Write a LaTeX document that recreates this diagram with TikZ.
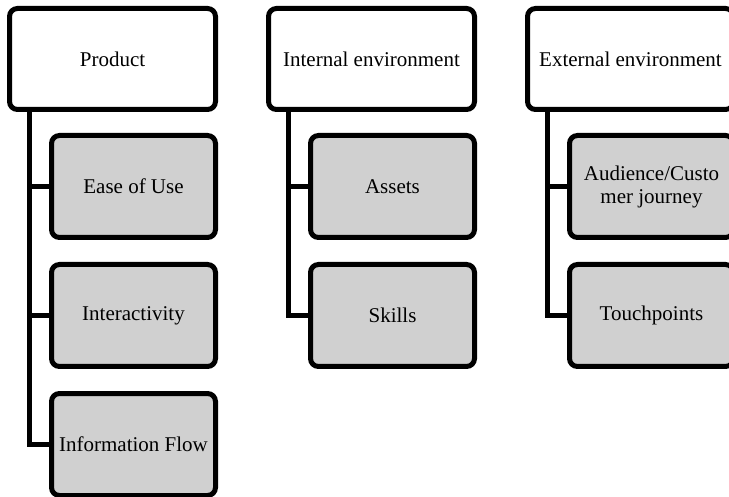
\documentclass[tikz,border=0pt]{standalone}
\usepackage{fontspec}
\setmainfont{Liberation Serif}
\usepackage{tikz}
\usetikzlibrary{positioning}
\definecolor{boxgray}{RGB}{208,208,208}
\begin{document}
\begin{tikzpicture}[x=1pt, y=1pt,
    topnode/.style={draw, line width=5pt, rounded corners=8pt, fill=white,
        minimum width=206pt, minimum height=101pt, align=center,
        font=\fontsize{21}{23}\selectfont},
    subnode/.style={topnode, fill=boxgray, minimum width=164pt, minimum height=102pt},
    branch/.style={line width=5pt}, node distance=22pt]
    \useasboundingbox (0,0) rectangle (729,-497);
    % Product
    \node[topnode] (P) at (112.5,-59) {Product};
    \node[subnode] (P1) [below=21pt of P, xshift=21pt] {Ease of Use};
    \node[subnode] (P2) [below=of P1] {Interactivity};
    \node[subnode] (P3) [below=of P2] {Information Flow};
    % Internal environment
    \node[topnode] (I) at (371.5,-59) {Internal environment};
    \node[subnode] (I1) [below=21pt of I, xshift=21pt] {Assets};
    \node[subnode] (I2) [below=of I1] {Skills};
    % External environment
    \node[topnode] (E) at (630.5,-59) {External environment};
    \node[subnode] (E1) [below=21pt of E, xshift=21pt] {Audience/Custo\\mer journey};
    \node[subnode] (E2) [below=of E1] {Touchpoints};
    % branches
    \coordinate (Pt) at ([xshift=22.5pt]P.south west);
    \coordinate (It) at ([xshift=22.5pt]I.south west);
    \coordinate (Et) at ([xshift=22.5pt]E.south west);
    \draw[branch] (Pt) |- (P1.west);
    \draw[branch] (Pt) |- (P2.west);
    \draw[branch] (Pt) |- (P3.west);
    \draw[branch] (It) |- (I1.west);
    \draw[branch] (It) |- (I2.west);
    \draw[branch] (Et) |- (E1.west);
    \draw[branch] (Et) |- (E2.west);
\end{tikzpicture}
\end{document}
